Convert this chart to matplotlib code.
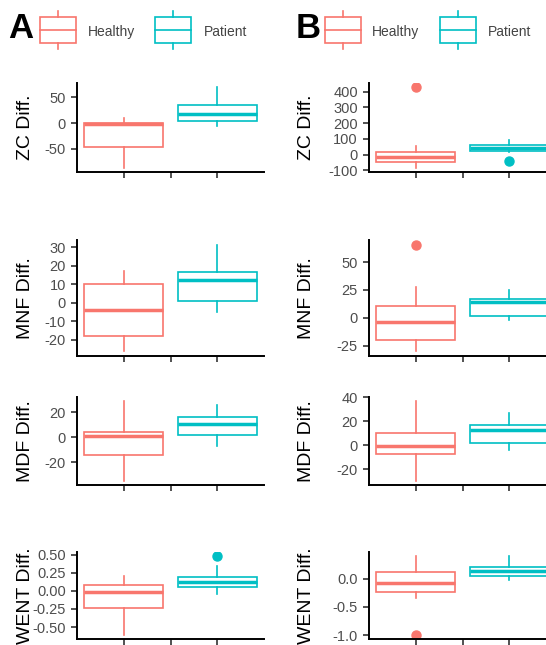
import matplotlib
matplotlib.use("Agg")
import matplotlib.pyplot as plt
from matplotlib.patches import Rectangle

plt.rcParams['font.family'] = ['Liberation Sans', 'DejaVu Sans']
plt.rcParams['axes.unicode_minus'] = False

# ---------------- data (box statistics) ----------------
groups = ["Healthy", "Patient"]
colors = {"Healthy": "#F8766D", "Patient": "#00BFC4"}
metrics = ["ZC Diff.", "MNF Diff.", "MDF Diff.", "WENT Diff."]

# each entry: (whislo, q1, med, q3, whishi, fliers)
A_ZC_healthy = (-87, -46, -2, 0, 10, [])
A_ZC_patient = (-5, 5, 18, 36, 70, [])
A_MNF_healthy = (-26, -18, -4, 10, 17, [])
A_MNF_patient = (-5, 1, 12, 16.5, 31, [])
A_MDF_healthy = (-35, -14.5, 1, 4.5, 29, [])
A_MDF_patient = (-7, 1.5, 10.5, 16, 26, [])
A_WENT_healthy = (-0.61, -0.24, -0.015, 0.085, 0.2, [])
A_WENT_patient = (-0.045, 0.055, 0.12, 0.19, 0.34, [0.48])

B_ZC_healthy = (-85, -45, -13, 15, 52, [430])
B_ZC_patient = (18, 22, 45, 63, 90, [-39])
B_MNF_healthy = (-29.5, -20, -4, 11, 28, [65])
B_MNF_patient = (-2, 2, 14.5, 17, 24.5, [])
B_MDF_healthy = (-30, -7, -1, 10, 37, [])
B_MDF_patient = (-4, 1.5, 12.5, 16.5, 27, [])
B_WENT_healthy = (-0.35, -0.24, -0.08, 0.11, 0.4, [-1.0])
B_WENT_patient = (-0.03, 0.04, 0.125, 0.21, 0.4, [])

panel_A = [(A_ZC_healthy, A_ZC_patient), (A_MNF_healthy, A_MNF_patient),
           (A_MDF_healthy, A_MDF_patient), (A_WENT_healthy, A_WENT_patient)]
panel_B = [(B_ZC_healthy, B_ZC_patient), (B_MNF_healthy, B_MNF_patient),
           (B_MDF_healthy, B_MDF_patient), (B_WENT_healthy, B_WENT_patient)]

A_yticks = [[-50, 0, 50], [-20, -10, 0, 10, 20, 30], [-20, 0, 20],
            [-0.50, -0.25, 0.00, 0.25, 0.50]]
B_yticks = [[-100, 0, 100, 200, 300, 400], [-25, 0, 25, 50], [-20, 0, 20, 40],
            [-1.0, -0.5, 0.0]]
A_fmt = ["{:.0f}", "{:.0f}", "{:.0f}", "{:.2f}"]
B_fmt = ["{:.0f}", "{:.0f}", "{:.0f}", "{:.1f}"]
x_ticks = [1, 1.5, 2]

# ---------------- layout ----------------
W, H = 546, 645
fig = plt.figure(figsize=(W / 100, H / 100), dpi=100)

rows_px = [(83, 172), (240, 356), (397, 485), (552, 639)]
cols_px = [(77, 264), (369, 556)]
label_x = [-0.232, -0.29]

def add_ax(col, row):
    l, r = cols_px[col]
    t, b = rows_px[row]
    return fig.add_axes([l / W, 1 - b / H, (r - l) / W, (b - t) / H])

def stats_of(t, name):
    wl, q1, med, q3, wh, fl = t
    return dict(whislo=wl, q1=q1, med=med, q3=q3, whishi=wh, fliers=fl, label=name)

for col, (panel, yticks, fmts) in enumerate([(panel_A, A_yticks, A_fmt),
                                             (panel_B, B_yticks, B_fmt)]):
    for row, pair in enumerate(panel):
        ax = add_ax(col, row)
        lo = min(min(p[0], *(p[5] or [p[0]])) for p in pair)
        hi = max(max(p[4], *(p[5] or [p[4]])) for p in pair)
        pad = 0.05 * (hi - lo)
        for i, (g, t) in enumerate(zip(groups, pair)):
            c = colors[g]
            ax.bxp([stats_of(t, g)], positions=[i + 1], widths=0.85,
                   patch_artist=True, showfliers=True,
                   boxprops=dict(facecolor='white', edgecolor=c, linewidth=1.2),
                   whiskerprops=dict(color=c, linewidth=1.2),
                   capprops=dict(linewidth=0),
                   medianprops=dict(color=c, linewidth=2.5, solid_capstyle='butt'),
                   flierprops=dict(marker='o', markerfacecolor=c, markeredgecolor=c,
                                   markersize=6.5, linestyle='none'))
        ax.set_xlim(0.5, 2.5)
        ax.set_ylim(lo - pad, hi + pad)
        ax.set_xticks(x_ticks)
        ax.set_xticklabels([])
        ax.set_yticks(yticks[row])
        ax.set_yticklabels([fmts[row].format(v) for v in yticks[row]])
        for s in ['top', 'right']:
            ax.spines[s].set_visible(False)
        for s in ['left', 'bottom']:
            ax.spines[s].set_linewidth(1.4)
            ax.spines[s].set_color('black')
        ax.tick_params(axis='both', length=4, width=1.2, color='#333333',
                       labelsize=10.5, labelcolor='#4D4D4D', pad=4)
        ax.set_ylabel(metrics[row], fontsize=14, color='black')
        ax.yaxis.set_label_coords(label_x[col], 0.5)
        ax.patch.set_alpha(0)

# ---------------- legends and panel letters ----------------
ov = fig.add_axes([0, 0, 1, 1])
ov.set_xlim(0, W)
ov.set_ylim(H, 0)
ov.axis('off')
ov.patch.set_alpha(0)

legend_keys = [("A", 8, [(40, 88), (155, 204)]),
               ("B", 296, [(325, 372), (440, 488)])]
for letter, lx, keys in legend_keys:
    ov.text(lx, 29, letter, fontsize=25, fontweight='bold', va='center', ha='left',
            color='black')
    for g, (kx, tx) in zip(groups, keys):
        c = colors[g]
        kw = 36
        ov.add_patch(Rectangle((kx, 17), kw, 26, facecolor='white', edgecolor=c,
                               linewidth=1.2))
        ov.plot([kx, kx + kw], [30, 30], color=c, linewidth=1.2)
        ov.plot([kx + kw / 2] * 2, [11, 17], color=c, linewidth=1.2)
        ov.plot([kx + kw / 2] * 2, [43, 49], color=c, linewidth=1.2)
        ov.text(tx, 32, g, fontsize=10, va='center', ha='left', color='#444444')

fig.savefig("out.png", dpi=100)
